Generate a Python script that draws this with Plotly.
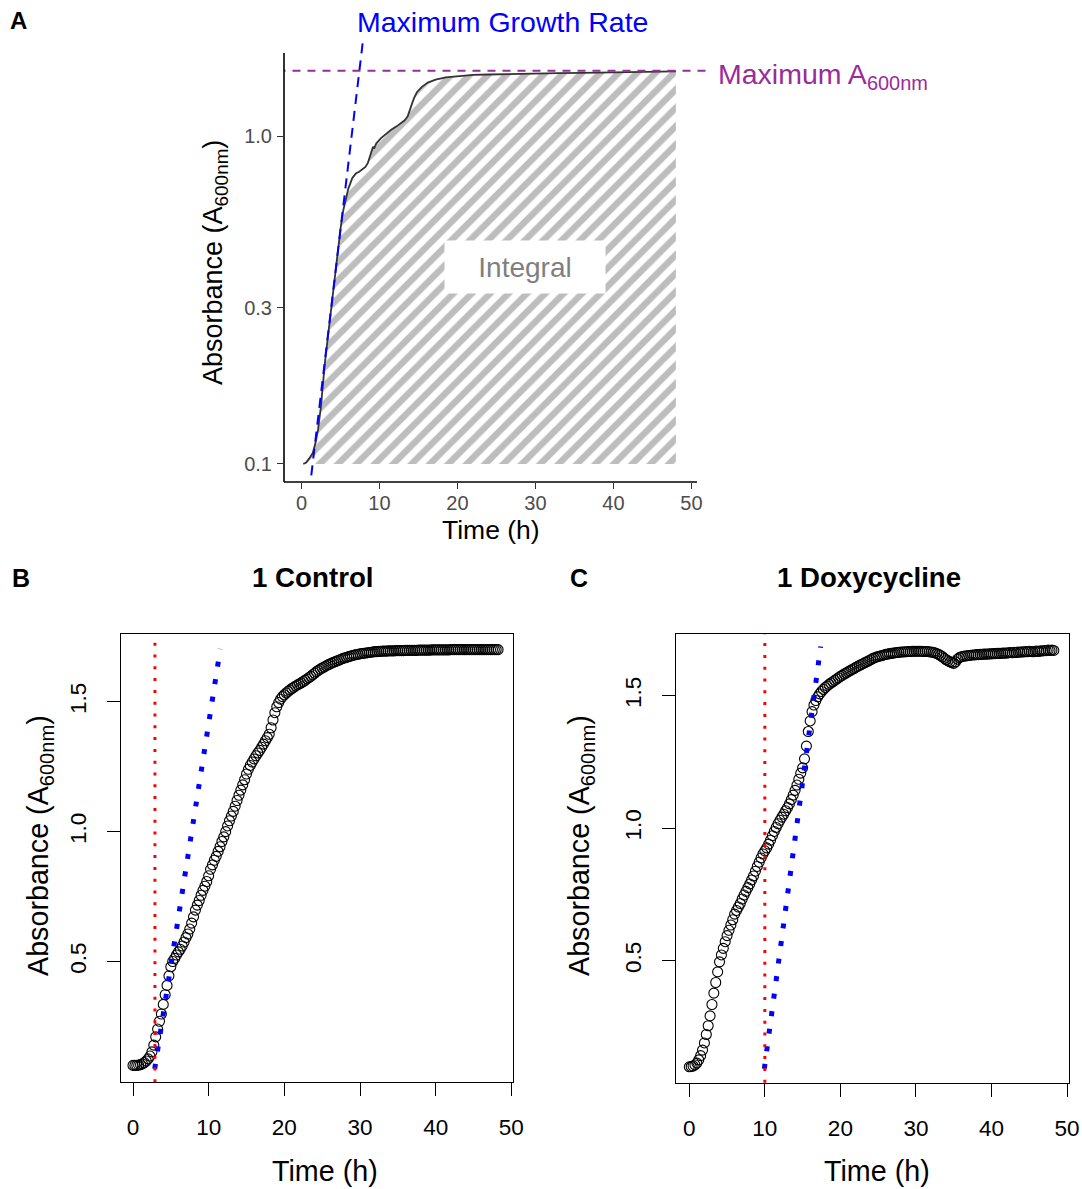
import numpy as np
import plotly.graph_objects as go

W, H = 1082, 1189
FONT = "Liberation Sans, Arial, Helvetica, sans-serif"

# ---------------- Panel A: growth curve on a log axis ----------------
curve_time_h = [0.23, 0.6, 1.0, 1.45, 1.8, 2.12, 2.5, 3.0, 3.44, 4.0, 4.54, 5.0, 5.3,
                5.64, 6.0, 6.52, 7.0, 7.4, 7.8, 8.2, 8.5, 8.8, 9.0, 9.17, 9.3, 9.6,
                10.2, 10.9, 11.5, 12.2, 12.7, 13.2, 13.6, 14.0, 14.4, 14.8, 15.4,
                16.2, 17.2, 18.5, 20.1, 22.0, 24.0, 26.0, 28.0, 30.0, 33.0, 36.0,
                39.0, 42.0, 45.0, 48.0]
curve_abs = [0.100, 0.101, 0.104, 0.108, 0.116, 0.127, 0.150, 0.203, 0.250, 0.330,
             0.430, 0.520, 0.585, 0.640, 0.690, 0.745, 0.770, 0.778, 0.790, 0.805,
             0.826, 0.870, 0.905, 0.928, 0.915, 0.950, 0.985, 1.020, 1.045, 1.070,
             1.090, 1.115, 1.146, 1.220, 1.300, 1.360, 1.410, 1.455, 1.485, 1.510,
             1.525, 1.535, 1.540, 1.545, 1.548, 1.552, 1.555, 1.558, 1.562, 1.566,
             1.570, 1.575]
integral_baseline = 0.1
max_abs = 1.58
growth_line_t = [1.0, 8.2]
growth_line_abs = [0.082, 2.26]

# ---------------- Panels B / C: plate reader series ----------------
READ_INTERVAL_H = 0.25
abs_control = [
    0.100, 0.100, 0.100, 0.101, 0.103, 0.106, 0.111, 0.117, 0.125, 0.136,
    0.152, 0.178, 0.210, 0.240, 0.270, 0.298, 0.335, 0.372, 0.408, 0.445,
    0.480, 0.500, 0.512, 0.525, 0.537, 0.547, 0.560, 0.575, 0.592, 0.606,
    0.625, 0.648, 0.672, 0.698, 0.717, 0.735, 0.755, 0.774, 0.790, 0.808,
    0.830, 0.855, 0.872, 0.890, 0.905, 0.924, 0.942, 0.962, 0.980, 1.000,
    1.022, 1.042, 1.060, 1.078, 1.098, 1.120, 1.140, 1.160, 1.180, 1.200,
    1.222, 1.240, 1.255, 1.268, 1.280, 1.292, 1.303, 1.313, 1.325, 1.337,
    1.350, 1.362, 1.375, 1.400, 1.430, 1.458, 1.481, 1.497, 1.510, 1.520,
    1.527, 1.534, 1.540, 1.546, 1.551, 1.556, 1.561, 1.565, 1.569, 1.573,
    1.578, 1.583, 1.588, 1.593, 1.598, 1.604, 1.610, 1.616, 1.621, 1.626,
    1.630, 1.634, 1.638, 1.642, 1.645, 1.649, 1.652, 1.655, 1.658, 1.661,
    1.664, 1.667, 1.669, 1.671, 1.674, 1.676, 1.678, 1.680, 1.682, 1.683,
    1.685, 1.686, 1.687, 1.688, 1.689, 1.690, 1.691, 1.692, 1.693, 1.693,
    1.694, 1.694, 1.695, 1.695, 1.695, 1.696, 1.696, 1.696, 1.696, 1.697,
    1.697, 1.697, 1.697, 1.697, 1.698, 1.698, 1.698, 1.698, 1.698, 1.698,
    1.698, 1.699, 1.699, 1.699, 1.699, 1.699, 1.699, 1.699, 1.700, 1.700,
    1.700, 1.700, 1.700, 1.700, 1.700, 1.700, 1.700, 1.700, 1.701, 1.701,
    1.701, 1.701, 1.701, 1.701, 1.701, 1.701, 1.701, 1.701, 1.701, 1.701,
    1.701, 1.701, 1.701, 1.701, 1.701, 1.701, 1.701, 1.701, 1.701, 1.701,
    1.701, 1.701, 1.701, 1.701]
abs_doxy = [
    0.100, 0.101, 0.103, 0.107, 0.114, 0.126, 0.142, 0.163, 0.190, 0.222,
    0.255, 0.292, 0.335, 0.378, 0.418, 0.458, 0.496, 0.522, 0.547, 0.572,
    0.595, 0.615, 0.635, 0.655, 0.676, 0.690, 0.703, 0.716, 0.733, 0.748,
    0.762, 0.776, 0.790, 0.805, 0.820, 0.838, 0.856, 0.872, 0.888, 0.903,
    0.915, 0.926, 0.940, 0.955, 0.972, 0.988, 1.003, 1.017, 1.030, 1.042,
    1.053, 1.066, 1.078, 1.092, 1.108, 1.125, 1.143, 1.163, 1.185, 1.208,
    1.228, 1.262, 1.310, 1.365, 1.405, 1.440, 1.465, 1.482, 1.496, 1.507,
    1.516, 1.524, 1.531, 1.537, 1.543, 1.548, 1.553, 1.558, 1.563, 1.568,
    1.573, 1.577, 1.582, 1.586, 1.590, 1.594, 1.598, 1.602, 1.606, 1.610,
    1.614, 1.618, 1.621, 1.625, 1.628, 1.632, 1.636, 1.640, 1.643, 1.646,
    1.648, 1.650, 1.652, 1.654, 1.656, 1.657, 1.659, 1.660, 1.661, 1.662,
    1.663, 1.664, 1.665, 1.665, 1.666, 1.666, 1.667, 1.667, 1.668, 1.668,
    1.668, 1.668, 1.668, 1.668, 1.667, 1.667, 1.667, 1.666, 1.665, 1.664,
    1.662, 1.659, 1.656, 1.652, 1.647, 1.641, 1.636, 1.632, 1.628, 1.625,
    1.622, 1.628, 1.638, 1.644, 1.647, 1.649, 1.650, 1.651, 1.652, 1.653,
    1.654, 1.654, 1.655, 1.655, 1.656, 1.656, 1.657, 1.657, 1.657, 1.658,
    1.658, 1.659, 1.659, 1.660, 1.660, 1.660, 1.661, 1.661, 1.661, 1.662,
    1.663, 1.662, 1.664, 1.663, 1.665, 1.664, 1.666, 1.665, 1.667, 1.666,
    1.668, 1.667, 1.666, 1.668, 1.669, 1.667, 1.670, 1.669, 1.671, 1.670,
    1.672, 1.671, 1.672, 1.671]
lag_control = 2.9
lag_doxy = 10.0
tangent_control_t = [2.87, 11.54]
tangent_control_abs = [0.087, 1.704]
tangent_doxy_t = [9.93, 17.39]
tangent_doxy_abs = [0.0925, 1.686]

time_control = np.arange(len(abs_control)) * READ_INTERVAL_H
time_doxy = np.arange(len(abs_doxy)) * READ_INTERVAL_H

x_ticks = [0, 10, 20, 30, 40, 50]


def px(x):
    return x / W


def py(y):
    return 1 - y / H


fig = go.Figure()

# Panel A -------------------------------------------------------------
fig.add_trace(go.Scatter(x=curve_time_h, y=[integral_baseline] * len(curve_time_h),
                         mode="lines", line=dict(width=0), hoverinfo="skip",
                         xaxis="x", yaxis="y"))
fig.add_trace(go.Scatter(x=curve_time_h, y=curve_abs, mode="lines",
                         line=dict(color="#333333", width=1.8),
                         fill="tonexty", fillcolor="rgba(0,0,0,0)",
                         fillpattern=dict(shape="/", fgcolor="#bdbdbd", bgcolor="rgba(0,0,0,0)",
                                          size=13, solidity=0.5),
                         xaxis="x", yaxis="y"))
fig.add_trace(go.Scatter(x=growth_line_t, y=growth_line_abs, mode="lines",
                         line=dict(color="#0000ff", width=2, dash="10px,7px"),
                         xaxis="x", yaxis="y"))
fig.add_trace(go.Scatter(x=[-5, 60], y=[max_abs, max_abs], mode="lines",
                         line=dict(color="#9b2a9b", width=2, dash="8px,7px"),
                         xaxis="x", yaxis="y"))

# Panels B and C -------------------------------------------------------
for t, a, lag, tt, ta, xa, ya in [
        (time_control, abs_control, lag_control, tangent_control_t, tangent_control_abs, "x2", "y2"),
        (time_doxy, abs_doxy, lag_doxy, tangent_doxy_t, tangent_doxy_abs, "x3", "y3")]:
    fig.add_trace(go.Scatter(x=t, y=a, mode="markers",
                             marker=dict(symbol="circle-open", size=10, color="black",
                                         line=dict(width=1.1, color="black")),
                             xaxis=xa, yaxis=ya))
    fig.add_trace(go.Scatter(x=tt, y=ta, mode="lines",
                             line=dict(color="#0000ff", width=5, dash="5px,12.7px"),
                             xaxis=xa, yaxis=ya))
    fig.add_shape(type="line", xref=xa, yref=f"{ya} domain", x0=lag, x1=lag, y0=0, y1=1,
                  line=dict(color="#ff0000", width=3, dash="3px,8.8px"))

# Axis lines for panel A (classic theme: left and bottom only)
fig.add_shape(type="line", xref="x domain", yref="y domain", x0=0, x1=0, y0=0,
              y1=(482 - 53) / (482 - 40), line=dict(color="black", width=1.6))
fig.add_shape(type="line", xref="x domain", yref="y domain", x0=0,
              x1=(697 - 284) / (712 - 284), y0=0, y1=0, line=dict(color="black", width=1.6))

axis_common_a = dict(showgrid=False, zeroline=False, showline=False, ticks="outside",
                     ticklen=6, tickwidth=1.3, tickcolor="#333333", automargin=False,
                     tickfont=dict(family=FONT, size=20, color="#4d4d4d"))
axis_common_r = dict(showgrid=False, zeroline=False, showline=True, mirror=True,
                     linecolor="black", linewidth=1.2, ticks="outside", ticklen=13,
                     tickwidth=1, tickcolor="black", automargin=False,
                     tickfont=dict(family=FONT, size=22.5, color="black"))

fig.update_layout(
    template="none",
    width=W, height=H, margin=dict(l=0, r=0, t=0, b=0, pad=0, autoexpand=False),
    autosize=False,
    paper_bgcolor="white", plot_bgcolor="rgba(0,0,0,0)", showlegend=False,
    font=dict(family=FONT, color="black"),
    xaxis=dict(domain=[px(284), px(712)], range=[-2.24, 52.63], tickvals=x_ticks,
               anchor="y", ticklabelstandoff=-3, **axis_common_a),
    yaxis=dict(domain=[py(482), py(40)], type="log", range=[-1.0549, 0.2927],
               tickvals=[0.1, 0.3, 1.0], ticktext=["0.1", "0.3", "1.0"],
               anchor="x", ticklabelstandoff=1, **axis_common_a),
    xaxis2=dict(domain=[px(120.7), px(513.3)], range=[-1.625, 50.26], tickvals=x_ticks,
                anchor="y2", ticklabelstandoff=12, **axis_common_r),
    yaxis2=dict(domain=[py(1082.3), py(634)], range=[0.035, 1.761],
                tickvals=[0.5, 1.0, 1.5], ticktext=["0.5", "1.0", "1.5"], tickangle=-90,
                anchor="x2", ticklabelstandoff=12, **axis_common_r),
    xaxis3=dict(domain=[px(676), px(1069)], range=[-1.76, 50.26], tickvals=x_ticks,
                anchor="y3", ticklabelstandoff=12, **axis_common_r),
    yaxis3=dict(domain=[py(1082.7), py(634)], range=[0.04, 1.733],
                tickvals=[0.5, 1.0, 1.5], ticktext=["0.5", "1.0", "1.5"], tickangle=-90,
                anchor="x3", ticklabelstandoff=12, **axis_common_r),
)


def label(text, x, y, size, color="black", bold=False, angle=0, xanchor="center", **kw):
    if bold:
        text = f"<b>{text}</b>"
    fig.add_annotation(text=text, xref="paper", yref="paper", x=px(x), y=py(y),
                       xanchor=xanchor, yanchor="middle", showarrow=False, textangle=angle,
                       font=dict(family=FONT, size=size, color=color), **kw)


label("A", 18, 20, 24, bold=True)
label("B", 21, 578, 25, bold=True)
label("C", 579, 578, 25, bold=True)
label("1 Control", 313, 577, 27.7, bold=True)
label("1 Doxycycline", 869, 577, 27.6, bold=True)

label("Maximum Growth Rate", 355, 22, 28.5, color="#0000ff", xanchor="left")
label("Maximum A<sub>600nm</sub>", 716, 76, 28.5, color="#9b2a9b", xanchor="left")
label("Integral", 524.5, 267, 28, color="#7f7f7f", bgcolor="white", width=158, height=50)

ytitle = "Absorbance (A<sub>600nm</sub>)"
label(ytitle, 215, 263, 27, angle=-90)
label("Time (h)", 491, 530, 26.5)
label(ytitle, 40, 846, 28.7, angle=-90)
label("Time (h)", 324.5, 1171, 28.7)
label(ytitle, 581, 846, 28.7, angle=-90)
label("Time (h)", 876.5, 1171, 28.7)

fig.write_html("out.html")
